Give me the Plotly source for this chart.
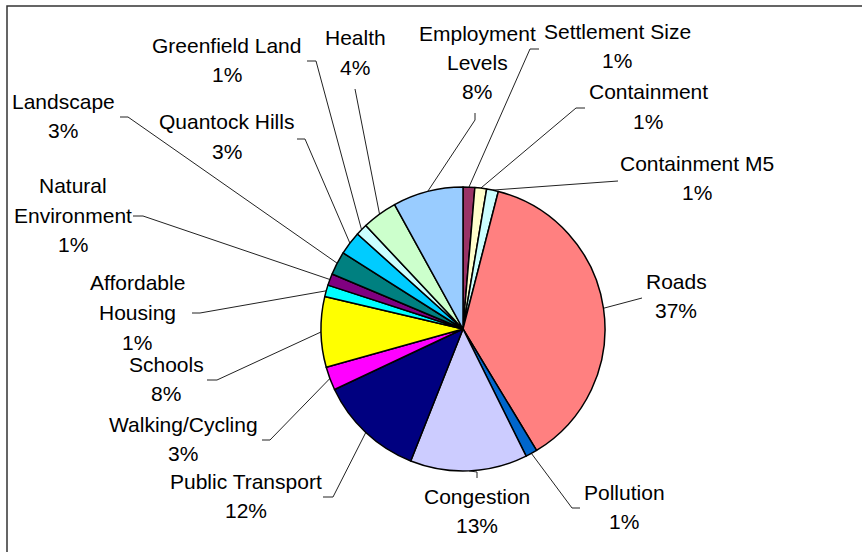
import numpy as np
import plotly.graph_objects as go

# ---- data: number of responses per issue (clockwise from 12 o'clock) ----
categories = [
    "Settlement Size", "Containment", "Containment M5", "Roads", "Pollution",
    "Congestion", "Public Transport", "Walking/Cycling", "Schools",
    "Affordable Housing", "Natural Environment", "Landscape", "Quantock Hills",
    "Greenfield Land", "Health", "Employment Levels",
]
responses = [1, 1, 1, 28, 1, 10, 9, 2, 6, 1, 1, 2, 2, 1, 3, 6]

# how each category name is broken over lines in its label
label_lines = {
    "Affordable Housing": ["Affordable", "Housing"],
    "Natural Environment": ["Natural", "Environment"],
    "Employment Levels": ["Employment", "Levels"],
}

slice_colors = [
    "#993366", "#FFFFCC", "#CCFFFF", "#FF8080", "#0066CC", "#CCCCFF",
    "#000080", "#FF00FF", "#FFFF00", "#00FFFF", "#800080", "#008080",
    "#00CCFF", "#CCFFFF", "#CCFFCC", "#99CCFF",
]

# ---- layout (pixels) ----
W, H = 862, 552
CX, CY, R = 463, 329, 142
FONT = dict(family="Liberation Sans, Arial, sans-serif", size=21, color="black")
LINE_GAP = 29.5

# label block: centre x, centre y of first line
label_pos = {
    "Settlement Size": (617, 31),
    "Containment": (648, 92),
    "Containment M5": (697, 163),
    "Roads": (676, 281),
    "Pollution": (624, 492),
    "Congestion": (477, 496),
    "Public Transport": (246, 481),
    "Walking/Cycling": (183, 424),
    "Schools": (166, 364),
    "Affordable Housing": (137, 283),
    "Natural Environment": (73, 186),
    "Landscape": (63, 101),
    "Quantock Hills": (227, 122),
    "Greenfield Land": (227, 45),
    "Health": (355, 38),
    "Employment Levels": (477, 33),
}

# leader line: outer end and elbow point near the label
leader_pts = {
    "Settlement Size": ((539, 49), (530, 49)),
    "Containment": ((585, 108), (576, 108)),
    "Containment M5": ((618, 181), (618, 181)),
    "Roads": ((642, 298), (642, 298)),
    "Pollution": ((580, 508), (572, 508)),
    "Congestion": ((477, 478), (477, 472)),
    "Public Transport": ((323, 497), (333, 497)),
    "Walking/Cycling": ((262, 440), (270, 440)),
    "Schools": ((207, 380), (217, 380)),
    "Affordable Housing": ((192, 313), (200, 313)),
    "Natural Environment": ((133, 216), (143, 216)),
    "Landscape": ((120, 117), (128, 117)),
    "Quantock Hills": ((297, 139), (305, 139)),
    "Greenfield Land": ((307, 61), (316, 61)),
    "Health": ((355, 89), (355, 89)),
    "Employment Levels": ((475, 113), (475, 120)),
}


def px(x):
    return x / W


def py(y):
    return 1 - y / H


counts = np.array(responses, dtype=float)
total = counts.sum()
shares = counts / total
percents = [f"{int(round(s * 100))}%" for s in shares]

# mid-angle of each slice, clockwise from 12 o'clock
ends = np.cumsum(shares) * 360.0
mids = ends - shares * 180.0

fig = go.Figure(
    go.Pie(
        labels=categories,
        values=responses,
        sort=False,
        direction="clockwise",
        rotation=0,
        textinfo="none",
        hoverinfo="label+percent",
        marker=dict(colors=slice_colors, line=dict(color="black", width=1.5)),
        domain=dict(x=[px(CX - R), px(CX + R)], y=[py(CY + R), py(CY - R)]),
        showlegend=False,
    )
)

annotations = []
shapes = []
for name, pct, ang in zip(categories, percents, mids):
    lines = label_lines.get(name, [name]) + [pct]
    lx, ly = label_pos[name]
    for i, t in enumerate(lines):
        annotations.append(dict(
            x=px(lx), y=py(ly + i * LINE_GAP), xref="paper", yref="paper",
            text=t, showarrow=False, xanchor="center", yanchor="middle",
            font=FONT,
        ))
    a = np.deg2rad(ang)
    ex, ey = CX + R * np.sin(a), CY - R * np.cos(a)
    (ox, oy), (bx, by) = leader_pts[name]
    shapes.append(dict(
        type="path", xref="paper", yref="paper", layer="below",
        path=f"M {px(ox)} {py(oy)} L {px(bx)} {py(by)} L {px(ex)} {py(ey)}",
        line=dict(color="#222222", width=1),
    ))

# chart-area frame
shapes.append(dict(
    type="rect", xref="paper", yref="paper",
    x0=px(7), x1=1.05, y0=-0.05, y1=py(6),
    line=dict(color="#333333", width=1.5),
))

fig.update_layout(
    width=W, height=H,
    margin=dict(l=0, r=0, t=0, b=0),
    paper_bgcolor="white", plot_bgcolor="white",
    annotations=annotations, shapes=shapes,
)

fig.write_html("out.html")
